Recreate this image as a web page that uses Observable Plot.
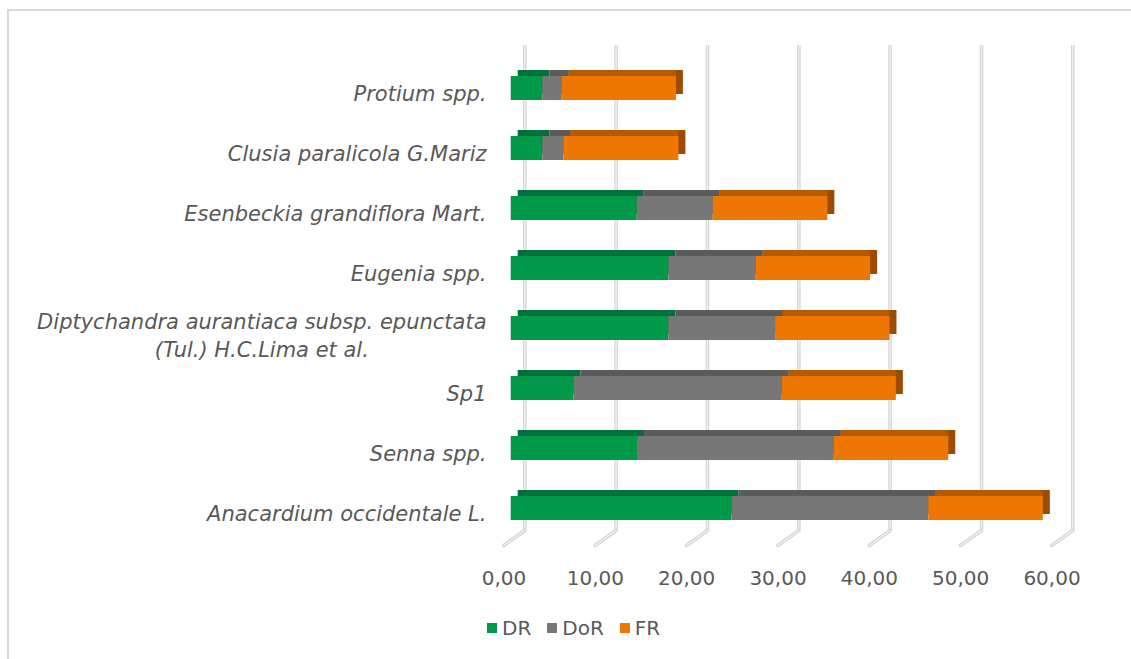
<!DOCTYPE html>
<html>
<head>
<meta charset="utf-8">
<script src="https://cdn.jsdelivr.net/npm/d3@7"></script>
<script src="https://cdn.jsdelivr.net/npm/@observablehq/plot@0.6"></script>
<style>
  body { margin: 0; background: #fff; font-family: "DejaVu Sans", sans-serif; }
  #wrap { position: relative; width: 1131px; height: 659px; overflow: hidden; background: #fff; }
  #border { position: absolute; left: 7px; top: 9px; width: 1300px; height: 800px;
            border-left: 2px solid #d9d9d9; border-top: 2px solid #d9d9d9; }
  #chart { position: absolute; left: 0; top: 0; }
  #legend { position: absolute; left: 487px; top: 616px; display: flex; align-items: center;
            font-family: "DejaVu Sans", sans-serif; font-size: 20px; color: #595959; }
  #legend .item { display: flex; align-items: center; margin-right: 16px; }
  #legend .sw { width: 10px; height: 10px; margin-right: 5px; }
  g[aria-label="y-axis tick label"] { font-style: italic; }
</style>
</head>
<body>
<div id="wrap">
  <div id="border"></div>
  <div id="chart"></div>
  <div id="legend"></div>
</div>
<script>
// ---- data ----
const species = [
  "Protium spp.",
  "Clusia paralicola G.Mariz",
  "Esenbeckia grandiflora Mart.",
  "Eugenia spp.",
  "Diptychandra aurantiaca subsp. epunctata\n(Tul.) H.C.Lima et al.",
  "Sp1",
  "Senna spp.",
  "Anacardium occidentale L."
];
const DR  = [3.46, 3.46, 13.80, 17.26, 17.26, 6.86, 13.83, 24.18];
const DoR = [2.13, 2.30, 8.32, 9.57, 11.69, 22.82, 21.55, 21.54];
const FR  = [12.50, 12.60, 12.55, 12.52, 12.52, 12.49, 12.53, 12.54];
const seriesNames = ["DR", "DoR", "FR"];
const xTicks = [0, 10, 20, 30, 40, 50, 60];

// ---- styles ----
const frontColors = ["#00994a", "#777777", "#ed7702"];
const topColors   = ["#00713a", "#5b5b5b", "#b55a00"];
const sideColor   = "#9c4c00";
const textColor   = "#595959";

const seriesValues = [DR, DoR, FR];
const rows = [];
species.forEach((s, i) => {
  let acc = 0;
  seriesNames.forEach((k, j) => {
    const v = seriesValues[j][i];
    rows.push({species: s, series: k, x1: acc, x2: acc + v});
    acc += v;
  });
});

const catSize = 21;
const dip = species[4];
const canvas = document.createElement("canvas");
const ctx = canvas.getContext("2d");
ctx.font = `italic ${catSize}px 'DejaVu Sans'`;
const w1 = ctx.measureText(dip.split("\n")[0]).width;

const lineShape = {
  draw(context, l) { context.moveTo(0, 0); context.lineTo(0, -l); }
};

const depthDX = 7, depthDY = -6, wallDX = 13.6;

const marks = [
  Plot.ruleX(xTicks, {x: d => d, dx: wallDX, stroke: "#d4d4d4", strokeWidth: 3.6}),
  Plot.ruleX(xTicks, {x: d => d, dx: wallDX, stroke: "#f2f2f2", strokeWidth: 1.3}),
  Plot.vector(xTicks, {x: d => d, dx: wallDX, frameAnchor: "bottom", anchor: "start",
    rotate: 234.5, length: 25.8, shape: lineShape, stroke: "#d4d4d4", strokeWidth: 3.6}),
  Plot.vector(xTicks, {x: d => d, dx: wallDX, frameAnchor: "bottom", anchor: "start",
    rotate: 234.5, length: 25.8, shape: lineShape, stroke: "#f2f2f2", strokeWidth: 1.3}),
  // side face of bar end
  Plot.barX(rows.filter(d => d.series === "FR"), {x1: "x1", x2: "x2", y: "species",
    fill: sideColor, dx: depthDX, dy: depthDY}),
  // top faces
  ...seriesNames.map((k, j) => Plot.barX(rows.filter(d => d.series === k), {
    x1: "x1", x2: "x2", y: "species", fill: topColors[j], dx: depthDX, dy: depthDY,
    insetRight: k === "FR" ? depthDX : 0
  })),
  // front faces
  Plot.barX(rows, {x1: "x1", x2: "x2", y: "species", fill: "series"}),
  Plot.axisX(xTicks, {tickSize: 0, tickPadding: 40, dx: -7.2, label: null,
    tickFormat: d => d.toFixed(2).replace(".", ","), fill: textColor, fontSize: 20}),
  Plot.axisY(species.filter(s => s !== dip), {tickSize: 0, tickPadding: 25, dy: 6, label: null,
    fontStyle: "italic", fill: textColor, fontSize: catSize}),
  Plot.axisY([dip], {tickSize: 0, tickPadding: 25, dy: 6, label: null, textAnchor: "middle",
    dx: -w1 / 2, lineHeight: 1.33, fontStyle: "italic", fill: textColor, fontSize: catSize})
];

const chart = Plot.plot({
  width: 1131,
  height: 605,
  marginTop: 45,
  marginBottom: 75,
  marginLeft: 511,
  marginRight: 72,
  x: {domain: [0, 60], range: [510.7, 1058.7], axis: null},
  y: {domain: species, range: [57.9, 539], paddingInner: 0.6, paddingOuter: 0.3, axis: null},
  color: {domain: seriesNames, range: frontColors},
  style: {fontFamily: "DejaVu Sans", fontSize: "20px", color: textColor, background: "transparent", overflow: "visible"},
  marks
});
document.getElementById("chart").appendChild(chart);

const legend = document.getElementById("legend");
seriesNames.forEach((k, j) => {
  const item = document.createElement("div");
  item.className = "item";
  const sw = document.createElement("div");
  sw.className = "sw";
  sw.style.background = frontColors[j];
  const t = document.createElement("span");
  t.textContent = k;
  item.appendChild(sw); item.appendChild(t);
  legend.appendChild(item);
});
</script>
</body>
</html>
